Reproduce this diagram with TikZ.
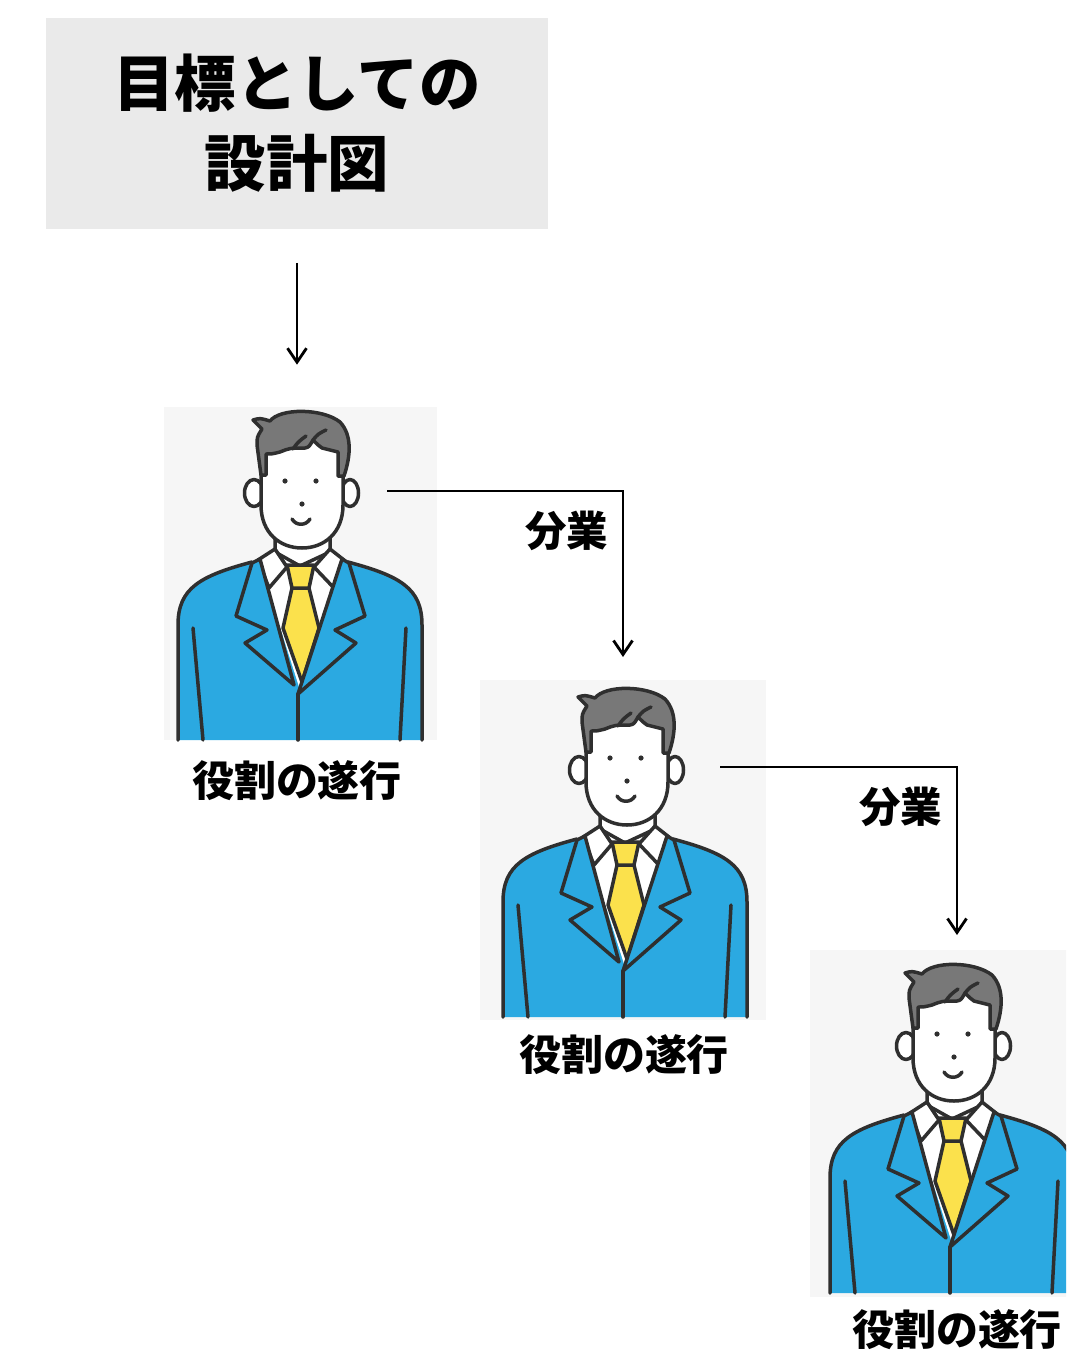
\documentclass[tikz,border=0pt]{standalone}
\usepackage{fontspec}
\newfontfamily\jp{Noto Sans CJK JP}
\usetikzlibrary{arrows.meta}
\definecolor{titlebg}{HTML}{EAEAEA}
\definecolor{figbg}{HTML}{F6F6F6}
\definecolor{suit}{HTML}{2BA9E1}
\definecolor{hairgrey}{HTML}{787878}
\definecolor{tieyellow}{HTML}{FBE14C}
\definecolor{ink}{HTML}{2F2F2F}

\tikzset{
  titlebox/.style={fill=titlebg, minimum width=10.04cm, minimum height=4.24cm,
    inner sep=0pt, align=center, font=\jp\bfseries\fontsize{35}{45.5}\selectfont},
  figbox/.style={fill=figbg, inner sep=0pt},
  role/.style={inner sep=0pt, font=\jp\bfseries\fontsize{23.9}{28}\selectfont},
  split/.style={anchor=east, inner sep=0pt, xshift=-0.27cm, font=\jp\bfseries\fontsize{23.6}{28}\selectfont},
  conn/.style={line width=1.6pt, -{Straight Barb[length=0.28cm,width=0.38cm]}},
  person/.pic={
    \begin{scope}[color=ink, line width=0.07cm, line join=round, line cap=round]
      % jacket
      \fill[suit] (-122,0) -- (-122,-115) .. controls (-122,-152) and (-100,-164) .. (-48,-178)
        -- (48,-178) .. controls (100,-164) and (122,-152) .. (122,-115) -- (122,0) -- cycle;
      \draw (-122,0) -- (-122,-115) .. controls (-122,-152) and (-100,-164) .. (-48,-178);
      \draw (122,0) -- (122,-115) .. controls (122,-152) and (100,-164) .. (48,-178);
      % shirt
      \fill[white] (-42,-182) -- (0,-50) -- (44,-182) -- cycle;
      % neck
      \fill[white] (-25,-205) -- (-25,-188) -- (0,-174) -- (30,-188) -- (30,-205) -- cycle;
      \draw (-25,-205) -- (-25,-188) -- (0,-174) -- (30,-188) -- (30,-205);
      % collar
      \filldraw[fill=white] (-25,-191) -- (-42,-180) -- (-31,-152) -- (-13,-173) -- cycle;
      \filldraw[fill=white] (30,-191) -- (44,-180) -- (34,-152) -- (14,-173) -- cycle;
      % tie
      \filldraw[fill=tieyellow] (-8,-152) -- (9,-152) -- (19,-112) -- (2,-58) -- (-17,-112) -- cycle;
      \filldraw[fill=tieyellow] (-13,-175) -- (14,-175) -- (9,-152) -- (-8,-152) -- cycle;
      % lapels
      \filldraw[fill=suit] (-40,-181) -- (-6,-55) -- (-55,-97) -- (-33,-110) -- (-64,-124) -- (-48,-177) -- cycle;
      \filldraw[fill=suit] (42,-181) -- (-2,-46) -- (56,-97) -- (35,-110) -- (65,-124) -- (49,-177) -- cycle;
      % front edge and sleeves
      \draw (-2,-46) -- (-2,0);
      \draw (-107,-112) -- (-97,0);
      \draw (106,-112) -- (100,0);
      % ears
      \filldraw[fill=white] (-46,-247) ellipse [x radius=9.5, y radius=13.5];
      \filldraw[fill=white] (50,-247) ellipse [x radius=8.5, y radius=13.5];
      % face
      \filldraw[fill=white] (-39,-300) -- (-39,-235) .. controls (-39,-207) and (-20,-192) .. (2,-192)
        .. controls (24,-192) and (43,-207) .. (43,-235) -- (43,-300) -- cycle;
      \fill (-15,-259) circle [radius=2.6];
      \fill (16,-259) circle [radius=2.6];
      \fill (2,-236) circle [radius=2.6];
      \draw (-8,-221) .. controls (-4,-214) and (6,-214) .. (10,-221);
      % hair
      \filldraw[fill=hairgrey] (-39,-265) -- (-43,-295) .. controls (-43,-303) .. (-38,-311)
        -- (-47,-320) .. controls (-40,-322) .. (-30,-319)
        .. controls (-20,-332) and (22,-332) .. (40,-318)
        .. controls (52,-305) and (51,-285) .. (44,-264) -- (38,-264) -- (38,-288)
        .. controls (30,-290) .. (22,-292) .. controls (18,-295) .. (13,-300)
        .. controls (9,-293) .. (5,-292) .. controls (-10,-292) .. (-20,-288)
        .. controls (-28,-286) .. (-34,-286) -- (-34,-265) -- cycle;
      \draw (13,-300) .. controls (18,-306) .. (26,-310);
      \draw (-7,-291) .. controls (-2,-298) .. (6,-304);
    \end{scope}
  }
}

\begin{document}
\begin{tikzpicture}[x=0.02cm, y=-0.02cm]
  \clip (0,0) rectangle (1066,1355);
  \fill[white] (0,0) rectangle (1066,1355);

  % heading
  \node[titlebox] (title) at (297,123.5) {目標としての\\設計図};

  % backdrops of the three figures
  \node[figbox, minimum width=5.46cm, minimum height=6.66cm] (p1) at (300.5,573.5) {};
  \node[figbox, minimum width=5.72cm, minimum height=6.8cm] (p2) at (623,850) {};
  \node[figbox, minimum width=5.4cm, minimum height=6.94cm] (p3) at (945,1123.5) {};

  \pic at (300,740) {person};
  \pic at (625,1017) {person};
  \pic at (952,1293) {person};

  % captions
  \node[role] (r1) at (297,781) {役割の遂行};
  \node[role] (r2) at (624,1055) {役割の遂行};
  \node[role] (r3) at (957,1330) {役割の遂行};

  % arrows
  \draw[conn, shorten <=0.66cm, shorten >=0.84cm] (title.south) -- (title.south |- p1.north);

  \coordinate (s1) at (387,491);
  \coordinate (e1) at (623,657);
  \draw[conn] (s1) -| node[split, pos=0.62] {分業} (e1);

  \coordinate (s2) at (720,767);
  \coordinate (e2) at (957,935);
  \draw[conn] (s2) -| node[split, pos=0.62] {分業} (e2);
\end{tikzpicture}
\end{document}
